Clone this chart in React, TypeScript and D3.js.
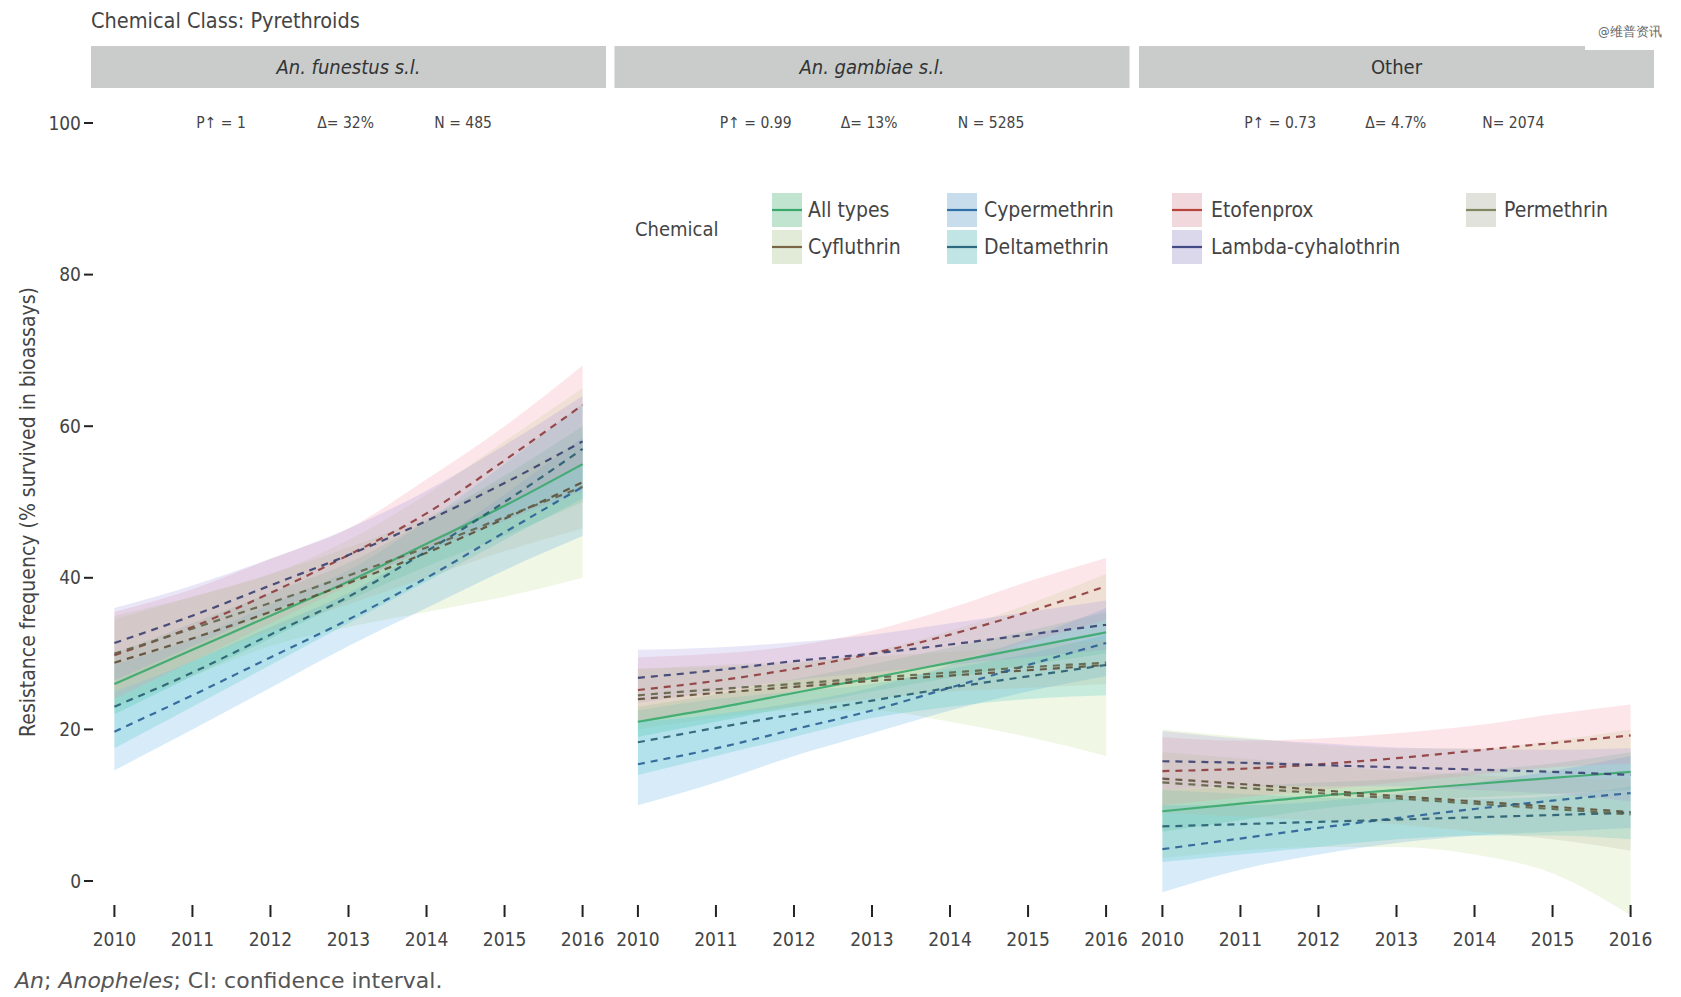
import React from "react";
import * as d3 from "d3";

const years = [2010, 2011, 2012, 2013, 2014, 2015, 2016];
const yTicks = [0, 20, 40, 60, 80, 100];
const chemicals = ["All types", "Cyfluthrin", "Cypermethrin", "Deltamethrin", "Etofenprox", "Lambda-cyhalothrin", "Permethrin"];
const panelTitles = ["An. funestus s.l.", "An. gambiae s.l.", "Other"];
const panelItalic = [true, true, false];
const pValues = ["P\u2191 = 1", "P\u2191 = 0.99", "P\u2191 = 0.73"];
const deltaValues = ["\u0394= 32%", "\u0394= 13%", "\u0394= 4.7%"];
const nValues = ["N = 485", "N = 5285", "N= 2074"];

// order: All types, Cyfluthrin, Cypermethrin, Deltamethrin, Etofenprox, Lambda-cyhalothrin, Permethrin
const funestusFit = [
  [26, 30.5, 35, 39.5, 44.5, 49.5, 55],
  [28.8, 32, 35.5, 39.3, 43.3, 47.8, 52.6],
  [19.7, 24.5, 29.5, 34.5, 40, 46, 52],
  [23, 27.5, 32.5, 37.5, 43.5, 50, 57],
  [29.8, 33.5, 38, 43, 48.5, 55.5, 62.8],
  [31.4, 35, 39, 43, 47.5, 52.5, 58],
  [30, 33.3, 36.7, 40.3, 44, 48, 52],
];
const funestusLow = [
  [22, 27, 32, 37, 41.5, 45.5, 50],
  [23, 27, 31, 33.5, 35.5, 37.5, 40],
  [14.6, 20, 25.5, 31, 36, 41, 45.5],
  [17.5, 23, 28.5, 34, 39.5, 45, 50.5],
  [24, 29, 34, 39, 44, 49.5, 55],
  [26.5, 31, 35.5, 39.5, 43.5, 47.5, 51.5],
  [25, 29, 33, 36.5, 40, 43.5, 46.5],
];
const funestusHigh = [
  [30, 34, 38, 42, 47.5, 53.5, 60],
  [34.5, 37.5, 40.5, 45, 51, 58, 65],
  [25, 29, 33.5, 38, 44, 51, 58.5],
  [28.5, 32, 36.5, 41, 47.5, 55, 63],
  [35.5, 38.5, 42.5, 46.5, 53, 60, 68],
  [36, 39, 42.5, 46.5, 51.5, 57.5, 64],
  [35, 37.5, 40.5, 44, 48, 53, 58],
];

const gambiaeFit = [
  [21, 22.8, 24.8, 26.8, 28.8, 30.8, 32.8],
  [24, 24.8, 25.6, 26.4, 27.1, 27.8, 28.5],
  [15.4, 17.5, 20, 22.5, 25.5, 28.5, 31.4],
  [18.3, 20.2, 22, 23.8, 25.5, 27, 28.5],
  [25.2, 26.4, 28, 30, 32.5, 35.5, 38.9],
  [26.8, 27.8, 29, 30, 31.2, 32.5, 33.8],
  [24.5, 25.3, 26, 26.8, 27.5, 28.2, 28.8],
];
const gambiaeLow = [
  [19, 21, 23, 25, 26.8, 28.5, 30],
  [20, 21.5, 22.5, 22.5, 21, 19, 16.5],
  [10, 13, 16.5, 19.5, 22.5, 25, 27],
  [14, 16.5, 19, 21.5, 23, 24, 24.5],
  [21, 23, 25, 27, 29, 31.5, 34.5],
  [23.5, 25, 26.5, 27.5, 28.5, 29.5, 30.5],
  [21, 22, 23, 24, 25, 25.5, 26],
];
const gambiaeHigh = [
  [23, 24.6, 26.6, 28.6, 30.8, 33, 35.5],
  [28, 28.3, 28.7, 30.3, 33, 36.5, 40.5],
  [21, 22, 23.5, 25.5, 28.5, 32, 36],
  [22.5, 24, 25, 26, 28, 30, 32.5],
  [29.5, 30, 31, 33, 36, 39.5, 42.6],
  [30.5, 30.8, 31.5, 32.5, 34, 35.5, 37],
  [28, 28.5, 29, 29.6, 30.2, 31, 31.8],
];

const otherFit = [
  [9.2, 10.2, 11.2, 12, 12.8, 13.6, 14.4],
  [13.5, 12.8, 12, 11.2, 10.5, 9.8, 9.1],
  [4.2, 5.6, 7, 8.3, 9.5, 10.6, 11.6],
  [7.2, 7.5, 7.8, 8.1, 8.4, 8.7, 9],
  [14.5, 14.8, 15.4, 16.2, 17.2, 18.2, 19.2],
  [15.8, 15.6, 15.3, 15, 14.7, 14.4, 14],
  [13, 12.3, 11.6, 10.9, 10.2, 9.5, 8.8],
];
const otherLow = [
  [6.5, 8, 9.5, 10.5, 11, 11.5, 12],
  [3, 4, 4.5, 4.5, 3.5, 1, -4.5],
  [-1.5, 1.5, 3.5, 5, 6, 6.5, 7],
  [2.5, 3.5, 4.5, 5.5, 6, 6, 5.5],
  [10, 11, 12, 13, 14, 15, 15.5],
  [12, 12.5, 12.5, 12.5, 12, 11.5, 10.5],
  [9, 8.5, 8, 7.5, 6.5, 5.5, 4],
];
const otherHigh = [
  [12, 12.5, 13, 13.5, 14.5, 15.5, 17],
  [20, 19, 18, 17.5, 17.5, 18.5, 20],
  [10, 10, 10.5, 11.5, 13, 14.5, 16.5],
  [12, 11.5, 11, 10.8, 10.8, 11.2, 12.5],
  [19, 18.5, 18.8, 19.5, 20.5, 22, 23.3],
  [19.8, 18.8, 18.2, 17.6, 17.4, 17.3, 17.5],
  [17, 16.2, 15.3, 14.5, 14, 13.5, 13.5],
];

const fits = [funestusFit, gambiaeFit, otherFit];
const lows = [funestusLow, gambiaeLow, otherLow];
const highs = [funestusHigh, gambiaeHigh, otherHigh];

const ribbonColors = ["#2fbf71", "#b9dc8a", "#4aa3df", "#35c3c3", "#f28fa0", "#9b8fe0", "#b5b89a"];
const lineColors = ["#3aa86b", "#5e4e36", "#2a5f95", "#285d70", "#8e3b3b", "#3a3f70", "#5f6448"];
const legendLineColors = ["#3aa86b", "#7a6646", "#2f6fa8", "#2d6a80", "#b8433a", "#434a85", "#7f8660"];

const FONT = "'DejaVu Sans Condensed', 'Liberation Sans Narrow', 'DejaVu Sans', sans-serif";
const TXT = "#444";

export default function App() {
  const W = 1681;
  const H = 997;
  const panelLefts = [91, 614.5, 1139];
  const panelW = 515;
  const y = d3.scaleLinear().domain([0, 100]).range([881, 123]);

  const legendCols = [
    { key: 772, label: 808 },
    { key: 947, label: 984 },
    { key: 1172, label: 1211 },
    { key: 1466, label: 1504 },
  ];
  const legendRows = [210, 247];

  return (
    <svg width={W} height={H} style={{ display: "block", position: "absolute", left: 0, top: 0 }} fontFamily={FONT}>
      <rect x={0} y={0} width={W} height={H} fill="#fff" />
      <text x={91} y={28} fontSize={21.5} fill={TXT}>Chemical Class: Pyrethroids</text>

      {panelTitles.map((t, pi) => {
        const left = panelLefts[pi];
        const x = d3.scaleLinear().domain([2009.7, 2016.3]).range([left, left + panelW]);
        const line = d3.line<number>().x((_, i) => x(years[i])).y((v) => y(v)).curve(d3.curveMonotoneX);
        return (
          <g key={t}>
            <rect x={left} y={46} width={panelW} height={42} fill="#c9cccb" />
            <text x={left + panelW / 2} y={74} fontSize={20} textAnchor="middle" fill="#333" fontStyle={panelItalic[pi] ? "italic" : "normal"}>{t}</text>
            {chemicals.map((c, ci) => {
              const a = d3
                .area<number>()
                .x((_, i) => x(years[i]))
                .y0((_, i) => y(lows[pi][ci][i]))
                .y1((_, i) => y(highs[pi][ci][i]))
                .curve(d3.curveMonotoneX);
              return <path key={c} d={a(years) || ""} fill={ribbonColors[ci]} fillOpacity={0.22} />;
            })}
            {chemicals.map((c, ci) => (
              <path
                key={c + "l"}
                d={line(fits[pi][ci]) || ""}
                fill="none"
                stroke={lineColors[ci]}
                strokeWidth={ci === 0 ? 2.2 : 2.2}
                strokeDasharray={ci === 0 ? undefined : "7,6"}
                strokeOpacity={0.9}
              />
            ))}
            <text x={x(2011.05)} y={y(100) + 5} fontSize={15.5} fill={TXT}>{pValues[pi]}</text>
            <text x={x(2012.6)} y={y(100) + 5} fontSize={15.5} fill={TXT}>{deltaValues[pi]}</text>
            <text x={x(2014.1)} y={y(100) + 5} fontSize={15.5} fill={TXT}>{nValues[pi]}</text>
            {years.map((yr) => (
              <g key={yr}>
                <line x1={x(yr)} x2={x(yr)} y1={905} y2={917} stroke="#222" strokeWidth={2} />
                <text x={x(yr)} y={946} fontSize={19} textAnchor="middle" fill={TXT}>{yr}</text>
              </g>
            ))}
          </g>
        );
      })}

      {yTicks.map((t) => (
        <g key={t}>
          <line x1={84} x2={93} y1={y(t)} y2={y(t)} stroke="#222" strokeWidth={2} />
          <text x={81} y={y(t) + 6.5} fontSize={19} textAnchor="end" fill={TXT}>{t}</text>
        </g>
      ))}

      <text transform={`translate(35,512) rotate(-90)`} fontSize={21} textAnchor="middle" fill={TXT}>
        Resistance frequency (% survived in bioassays)
      </text>

      {/* legend */}
      <text x={635} y={236} fontSize={20} fill={TXT}>Chemical</text>
      {chemicals.map((c, ci) => {
        const col = legendCols[Math.floor(ci / 2)];
        const cy = legendRows[ci % 2];
        return (
          <g key={c + "leg"}>
            <rect x={col.key} y={cy - 17} width={30} height={34} fill="#f1f1f1" />
            <rect x={col.key} y={cy - 17} width={30} height={34} fill={ribbonColors[ci]} fillOpacity={0.25} />
            <line x1={col.key} x2={col.key + 30} y1={cy} y2={cy} stroke={legendLineColors[ci]} strokeWidth={2.2} />
            <text x={col.label} y={cy + 7} fontSize={21} fill={TXT}>{c}</text>
          </g>
        );
      })}

      {/* watermark box */}
      <rect x={1585} y={0} width={83} height={50} fill="#fff" />
      <text x={1598} y={36} fontSize={13} fill="#666">@维普资讯</text>

      <text x={15} y={988} fontSize={22} fill="#555" fontFamily="'DejaVu Sans', sans-serif">
        <tspan fontStyle="italic">An</tspan>; <tspan fontStyle="italic">Anopheles</tspan>; CI: confidence interval.
      </text>
    </svg>
  );
}
